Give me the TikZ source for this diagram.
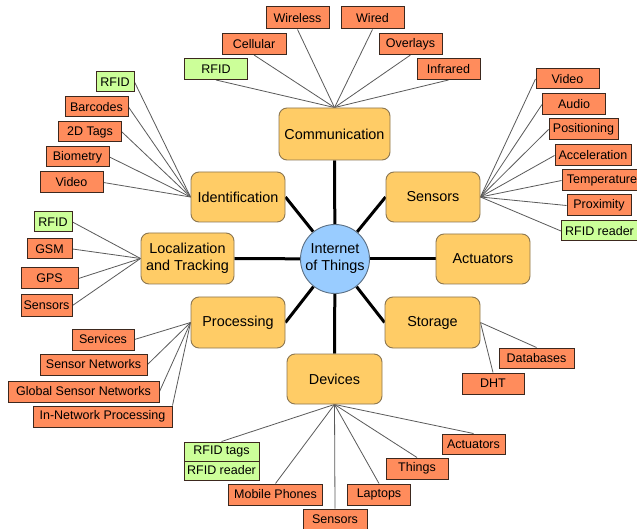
\documentclass[tikz,border=0pt]{standalone}
\usepackage{fontspec}
\setmainfont{Liberation Sans}
\usetikzlibrary{backgrounds}
\definecolor{catfill}{RGB}{255,204,102}
\definecolor{catline}{RGB}{140,118,80}
\definecolor{leaffill}{RGB}{255,140,92}
\definecolor{leafline}{RGB}{60,40,30}
\definecolor{greenfill}{RGB}{204,255,153}
\definecolor{hubfill}{RGB}{153,204,255}
\definecolor{hubline}{RGB}{90,110,130}
\definecolor{twigcol}{RGB}{90,90,90}
\begin{document}
\begin{tikzpicture}[x=1pt,y=-1pt,
 hub/.style={circle, draw=hubline, fill=hubfill, line width=0.9pt, minimum size=69pt, inner sep=0pt, align=center, font=\fontsize{14.4}{17}\selectfont},
 cat/.style={rectangle, rounded corners=8pt, draw=catline, fill=catfill, line width=0.9pt, minimum width=94pt, minimum height=50pt, inner sep=1pt, align=center, font=\fontsize{14.4}{17.2}\selectfont},
 leaf/.style={rectangle, draw=leafline, fill=leaffill, line width=1pt, minimum height=21pt, inner sep=1pt, font=\fontsize{12.5}{14}\selectfont},
 gleaf/.style={leaf, fill=greenfill},
 spoke/.style={line width=3pt, draw=black},
 twig/.style={line width=0.8pt, draw=twigcol},
]
\useasboundingbox (0,0) rectangle (637,529);

% hub and categories
\node[hub] (iot) at (335,259) {Internet\\of Things};
\node[cat, minimum width=111pt, minimum height=52pt] (comm) at (334.5,134) {Communication};
\node[cat] (ident) at (238,197) {Identification};
\node[cat, minimum width=93pt, minimum height=51pt] (loc) at (187.5,258.5) {Localization\\and Tracking};
\node[cat, minimum height=51pt] (proc) at (238,322.5) {Processing};
\node[cat, minimum width=95pt] (dev) at (334.5,379) {Devices};
\node[cat, minimum width=95pt, minimum height=51pt] (stor) at (432.5,322.5) {Storage};
\node[cat] (act) at (483,259) {Actuators};
\node[cat] (sens) at (433,197) {Sensors};

% communication leaves
\node[gleaf, minimum width=63pt] (c1) at (216,69) {RFID};
\node[leaf, minimum width=64pt] (c2) at (254,44) {Cellular};
\node[leaf, minimum width=63pt, minimum height=22pt] (c3) at (297.5,18) {Wireless};
\node[leaf, minimum width=63pt, minimum height=22pt] (c4) at (372.5,18) {Wired};
\node[leaf, minimum width=63pt] (c5) at (410.5,44) {Overlays};
\node[leaf, minimum width=63pt] (c6) at (448.5,69) {Infrared};

% identification leaves
\node[gleaf, minimum width=38pt, minimum height=20pt] (i1) at (115,82) {RFID};
\node[leaf, minimum width=63pt, minimum height=20pt] (i2) at (96.5,107) {Barcodes};
\node[leaf, minimum width=63pt, minimum height=20pt] (i3) at (90,132) {2D Tags};
\node[leaf, minimum width=63pt, minimum height=20pt] (i4) at (77.5,157) {Biometry};
\node[leaf, minimum width=63pt] (i5) at (71.5,182.5) {Video};

% localization leaves
\node[gleaf, minimum width=38pt, minimum height=20pt] (l1) at (53,222) {RFID};
\node[leaf, minimum width=45pt, minimum height=20pt] (l2) at (49.5,249) {GSM};
\node[leaf, minimum width=57pt] (l3) at (49.5,278.5) {GPS};
\node[leaf, minimum width=51pt] (l4) at (46.5,305.5) {Sensors};

% processing leaves
\node[leaf, minimum width=62pt] (p1) at (103,339.5) {Services};
\node[leaf, minimum width=107pt] (p2) at (93.5,364.5) {Sensor Networks};
\node[leaf, minimum width=151pt] (p3) at (83.5,391.5) {Global Sensor Networks};
\node[leaf, minimum width=139pt] (p4) at (102.5,416.5) {In-Network Processing};

% sensors leaves
\node[leaf, minimum width=63pt, minimum height=20pt] (s1) at (567.5,79) {Video};
\node[leaf, minimum width=63pt] (s2) at (574,104.5) {Audio};
\node[leaf, minimum width=69pt] (s3) at (583.5,129.5) {Positioning};
\node[leaf, minimum width=76pt] (s4) at (593,155.5) {Acceleration};
\node[leaf, minimum width=80pt] (s5) at (602,180.5) {Temperature};
\node[leaf, minimum width=64pt] (s6) at (599,205.5) {Proximity};
\node[gleaf, minimum width=76pt, minimum height=20pt] (s7) at (599.5,231) {RFID reader};

% storage leaves
\node[leaf, minimum width=75pt, minimum height=20pt] (st1) at (536.5,358) {Databases};
\node[leaf, minimum width=62pt] (st2) at (493,383.5) {DHT};

% devices leaves
\node[gleaf, minimum width=75pt, minimum height=19pt] (d1) at (221.5,451.5) {RFID tags};
\node[gleaf, minimum width=75pt, minimum height=19pt] (d1b) at (221.5,470.5) {RFID reader};
\node[leaf, minimum width=94pt] (d2) at (275.5,494.5) {Mobile Phones};
\node[leaf, minimum width=64pt, minimum height=20pt] (d3) at (335,519) {Sensors};
\node[leaf, minimum width=63pt] (d4) at (379,494.5) {Laptops};
\node[leaf, minimum width=62pt] (d5) at (417,468.5) {Things};
\node[leaf, minimum width=63pt, minimum height=20pt] (d6) at (473.5,444) {Actuators};

\begin{scope}[on background layer]
\fill[white] (0,0) rectangle (637,529);
% spokes
\draw[spoke] (iot) -- (comm.south);
\draw[spoke] (iot) -- (ident.east);
\draw[spoke] (iot) -- (loc.east);
\draw[spoke] (iot) -- (proc.east);
\draw[spoke] (iot) -- (dev.north);
\draw[spoke] (iot) -- (stor.west);
\draw[spoke] (iot) -- (act.west);
\draw[spoke] (iot) -- (sens.west);
% twigs
\foreach \n in {c1,c2,c3,c4,c5,c6} \draw[twig] (\n.south) -- (comm.north);
\foreach \n in {i1,i2,i3,i4,i5} \draw[twig] (\n.east) -- (ident.west);
\foreach \n in {l1,l2,l3,l4} \draw[twig] (\n.east) -- (loc.west);
\foreach \n in {p1,p2,p3} \draw[twig] (\n.east) -- (proc.west);
\draw[twig] (p4.north east) -- (proc.west);
\foreach \n in {s1,s2,s3,s4,s5,s6,s7} \draw[twig] (\n.west) -- (sens.east);
\foreach \n in {st1,st2} \draw[twig] (\n.north) -- (stor.east);
\foreach \n in {d1,d2,d3,d4,d5,d6} \draw[twig] (\n.north) -- (dev.south);
\end{scope}
\end{tikzpicture}
\end{document}
